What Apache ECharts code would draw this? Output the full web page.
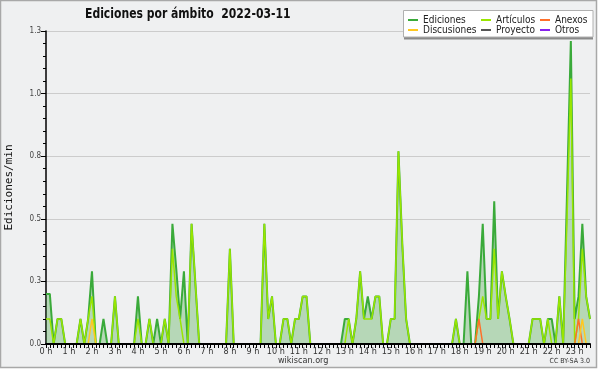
<!DOCTYPE html>
<html>
<head>
<meta charset="UTF-8">
<title>Ediciones por ámbito</title>
<script src="https://cdn.jsdelivr.net/npm/echarts@6/dist/echarts.min.js"></script>
<style>
html, body { margin:0; padding:0; background:#fff; }
#chart { width:600px; height:370px; }
</style>
</head>
<body>
<div id="chart"></div>
<script>
// etiquetas de hora (una cada 6 intervalos de 10 min)
var hourLabels = ['0 h','1 h','2 h','3 h','4 h','5 h','6 h','7 h','8 h','9 h','10 h','11 h',
                  '12 h','13 h','14 h','15 h','16 h','17 h','18 h','19 h','20 h','21 h','22 h','23 h'];

// ediciones/min por intervalo de 10 min (una fila por hora)
var ediciones = [
  0.2,0.2,0,0.1,0.1,0,
  0,0,0,0.1,0,0.1,
  0.29,0,0,0.1,0,0,
  0.19,0,0,0,0,0,
  0.19,0,0,0.1,0,0.1,
  0,0.1,0,0.48,0.3,0.1,
  0.29,0,0.48,0.24,0,0,
  0,0,0,0,0,0,
  0.38,0,0,0,0,0,
  0,0,0,0.48,0.1,0.19,
  0,0,0.1,0.1,0,0.1,
  0.1,0.19,0.19,0,0,0,
  0,0,0,0,0,0,
  0.1,0.1,0,0.1,0.29,0.1,
  0.19,0.1,0.19,0.19,0,0,
  0.1,0.1,0.77,0.4,0.1,0,
  0,0,0,0,0,0,
  0,0,0,0,0,0.1,
  0,0,0.29,0,0,0.19,
  0.48,0.1,0.1,0.57,0.1,0.29,
  0.19,0.1,0,0,0,0,
  0,0.1,0.1,0.1,0,0.1,
  0.1,0,0.19,0,0.6,1.21,
  0.1,0.19,0.48,0.19,0.1
];
var articulos = [
  0.1,0.1,0,0.1,0.1,0,
  0,0,0,0.1,0,0.1,
  0.19,0,0,0,0,0,
  0.19,0,0,0,0,0,
  0.1,0,0,0.1,0,0,
  0,0.1,0,0.38,0.19,0.1,
  0,0,0.48,0.24,0,0,
  0,0,0,0,0,0,
  0.38,0,0,0,0,0,
  0,0,0,0.48,0.1,0.19,
  0,0,0.1,0.1,0,0.1,
  0.1,0.19,0.19,0,0,0,
  0,0,0,0,0,0,
  0,0.1,0,0.1,0.29,0.1,
  0.1,0.1,0.19,0.19,0,0,
  0.1,0.1,0.77,0.4,0.1,0,
  0,0,0,0,0,0,
  0,0,0,0,0,0.1,
  0,0,0,0,0,0.1,
  0.19,0.1,0.1,0.38,0.1,0.29,
  0.19,0.1,0,0,0,0,
  0,0.1,0.1,0.1,0,0.1,
  0,0,0.19,0,0.5,1.06,
  0,0.1,0.38,0.19,0.1
];
var anexos = [
  0,0,0,0,0,0, 0,0,0,0,0,0, 0,0,0,0,0,0, 0,0,0,0,0,0,
  0,0,0,0,0,0, 0,0,0,0,0,0, 0,0,0,0,0,0, 0,0,0,0,0,0,
  0,0,0,0,0,0, 0,0,0,0,0,0, 0,0,0,0,0,0, 0,0,0,0,0,0,
  0,0,0,0,0,0, 0,0,0,0,0,0, 0,0,0,0,0,0, 0,0,0,0,0,0,
  0,0,0,0,0,0, 0,0,0,0,0,0, 0,0,0,0,0,0.1, 0,0,0,0,0,0,
  0,0,0,0,0,0, 0,0,0,0,0,0, 0,0,0,0,0,0, 0,0.1,0,0,0
];
var discusiones = [
  0,0,0,0,0,0, 0,0,0,0,0,0, 0.1,0,0,0,0,0, 0,0,0,0,0,0,
  0,0,0,0,0,0, 0,0,0,0,0,0, 0,0,0,0,0,0, 0,0,0,0,0,0,
  0,0,0,0,0,0, 0,0,0,0,0,0, 0,0,0,0,0,0, 0,0,0,0,0,0,
  0,0,0,0,0,0, 0,0,0,0,0,0, 0,0,0,0,0,0, 0,0,0,0,0,0,
  0,0,0,0,0,0, 0,0,0,0,0,0, 0,0,0,0,0,0, 0,0,0,0,0,0,
  0,0,0,0,0,0, 0,0,0,0,0,0, 0,0,0,0,0,0, 0,0,0.1,0,0
];
var proyecto = [
  0,0,0,0,0,0, 0,0,0,0,0,0, 0,0,0,0,0,0, 0,0,0,0,0,0,
  0,0,0,0,0,0, 0,0,0,0,0,0, 0,0,0,0,0,0, 0,0,0,0,0,0,
  0,0,0,0,0,0, 0,0,0,0,0,0, 0,0,0,0,0,0, 0,0,0,0,0,0,
  0,0,0,0,0,0, 0,0,0,0,0,0, 0,0,0,0,0,0, 0,0,0,0,0,0,
  0,0,0,0,0,0, 0,0,0,0,0,0, 0,0,0,0,0,0, 0,0,0,0,0,0,
  0,0,0,0,0,0, 0,0,0,0,0,0, 0,0,0,0,0,0, 0,0,0,0,0
];
var otros = [
  0,0,0,0,0,0, 0,0,0,0,0,0, 0,0,0,0,0,0, 0,0,0,0,0,0,
  0,0,0,0,0,0, 0,0,0,0,0,0, 0,0,0,0,0,0, 0,0,0,0,0,0,
  0,0,0,0,0,0, 0,0,0,0,0,0, 0,0,0,0,0,0, 0,0,0,0,0,0,
  0,0,0,0,0,0, 0,0,0,0,0,0, 0,0,0,0,0,0, 0,0,0,0,0,0,
  0,0,0,0,0,0, 0,0,0,0,0,0, 0,0,0,0,0,0, 0,0,0,0,0,0,
  0,0,0,0,0,0, 0,0,0,0,0,0, 0,0,0,0,0,0, 0,0,0,0,0
];

// categorias: cada 10 minutos
var categorias = [];
for (var i = 0; i < ediciones.length; i++) {
  var hh = Math.floor(i / 6), mm = (i % 6) * 10;
  categorias.push((hh < 10 ? '0' : '') + hh + ':' + (mm < 10 ? '0' : '') + mm);
}

var FONT = "'DejaVu Sans Condensed', 'DejaVu Sans', sans-serif";
var colores = {
  ediciones:'#3aaa3a', articulos:'#99e600', anexos:'#ff6f2a',
  discusiones:'#ffc820', proyecto:'#555555', otros:'#8822ee'
};

function linea(nombre, datos, color, ancho){
  return {
    name: nombre, type: 'line', data: datos, symbol: 'none', z: 2,
    lineStyle: { color: color, width: ancho }, itemStyle: { color: color }
  };
}
var legendBase = {
  orient: 'vertical', itemGap: 0, itemWidth: 10, itemHeight: 2, icon: 'rect', padding: 0,
  textStyle: { fontFamily: FONT, fontSize: 10, color: '#222', lineHeight: 9 },
  selectedMode: false
};

var chart = echarts.init(document.getElementById('chart'));
var serieEd = linea('Ediciones', ediciones, colores.ediciones, 2);
serieEd.areaStyle = { color: 'rgba(60,160,60,0.45)' };

var option = {
  animation: false,
  backgroundColor: '#ffffff',
  legend: [
    Object.assign({}, legendBase, { left: 408, top: 15, data: ['Ediciones','Discusiones'] }),
    Object.assign({}, legendBase, { left: 481, top: 15, data: ['Artículos','Proyecto'] }),
    Object.assign({}, legendBase, { left: 540, top: 15, data: ['Anexos','Otros'] })
  ],
  grid: { left: 46, right: 10, top: 31, bottom: 26, outerBoundsMode: 'none', containLabel: false },
  xAxis: {
    type: 'category', data: categorias, boundaryGap: false, z: 10,
    axisLine: { lineStyle: { color: '#000', width: 2 } },
    axisTick: { interval: 0, length: 4, lineStyle: { color: '#000' } },
    axisLabel: {
      interval: 5, margin: 3, fontFamily: FONT, fontSize: 9, color: '#333',
      formatter: function(v, idx){ return hourLabels[Math.round(idx / 6)]; }
    },
    splitLine: { show: false }
  },
  yAxis: {
    type: 'value', min: 0, max: 1.25, interval: 0.25,
    name: 'Ediciones/min', nameLocation: 'middle', nameGap: 31, nameRotate: 90,
    nameTextStyle: { fontFamily: "'DejaVu Sans Mono', monospace", fontSize: 11, color: '#111' },
    axisLine: { show: true, lineStyle: { color: '#000', width: 1.5 } },
    axisTick: { show: true, length: 5, lineStyle: { color: '#000' } },
    minorTick: { show: true, splitNumber: 5, length: 3, lineStyle: { color: '#000' } },
    axisLabel: {
      margin: 5, fontFamily: FONT, fontSize: 8, color: '#444',
      formatter: function(v){ return v.toFixed(1); }
    },
    splitLine: { lineStyle: { color: '#cccccc', width: 1 } }
  },
  graphic: [
    { type: 'rect', z: -10, silent: true, shape: { x: 0.5, y: 0.5, width: 596, height: 367 },
      style: { fill: '#eff0f1', stroke: '#a8a8a8', lineWidth: 1.5 } },
    // titulo (texto comprimido como en el original)
    { type: 'text', x: 85, y: 7, scaleX: 0.86, silent: true,
      style: { text: 'Ediciones por ámbito  2022-03-11', fontFamily: FONT, fontSize: 14,
               fontWeight: 'bold', fill: '#111' } },
    { type: 'rect', z: 1, silent: true, shape: { x: 404, y: 36, width: 189, height: 3.5 },
      style: { fill: '#8a8a8a' } },
    { type: 'rect', z: 1, silent: true, shape: { x: 403.5, y: 10.5, width: 189.5, height: 26.5 },
      style: { fill: '#ffffff', stroke: '#b0b0b0', lineWidth: 1 } },
    { type: 'text', left: 278, top: 356, silent: true,
      style: { text: 'wikiscan.org', fontFamily: FONT, fontSize: 9, fill: '#333' } },
    { type: 'text', right: 10, top: 358, silent: true,
      style: { text: 'CC BY-SA 3.0', fontFamily: FONT, fontSize: 7, fill: '#333' } }
  ],
  series: [
    serieEd,
    linea('Artículos', articulos, colores.articulos, 1.5),
    linea('Anexos', anexos, colores.anexos, 1.5),
    linea('Discusiones', discusiones, colores.discusiones, 1.5),
    linea('Proyecto', proyecto, colores.proyecto, 1.5),
    linea('Otros', otros, colores.otros, 1.5)
  ]
};
chart.setOption(option);
</script>
</body>
</html>
